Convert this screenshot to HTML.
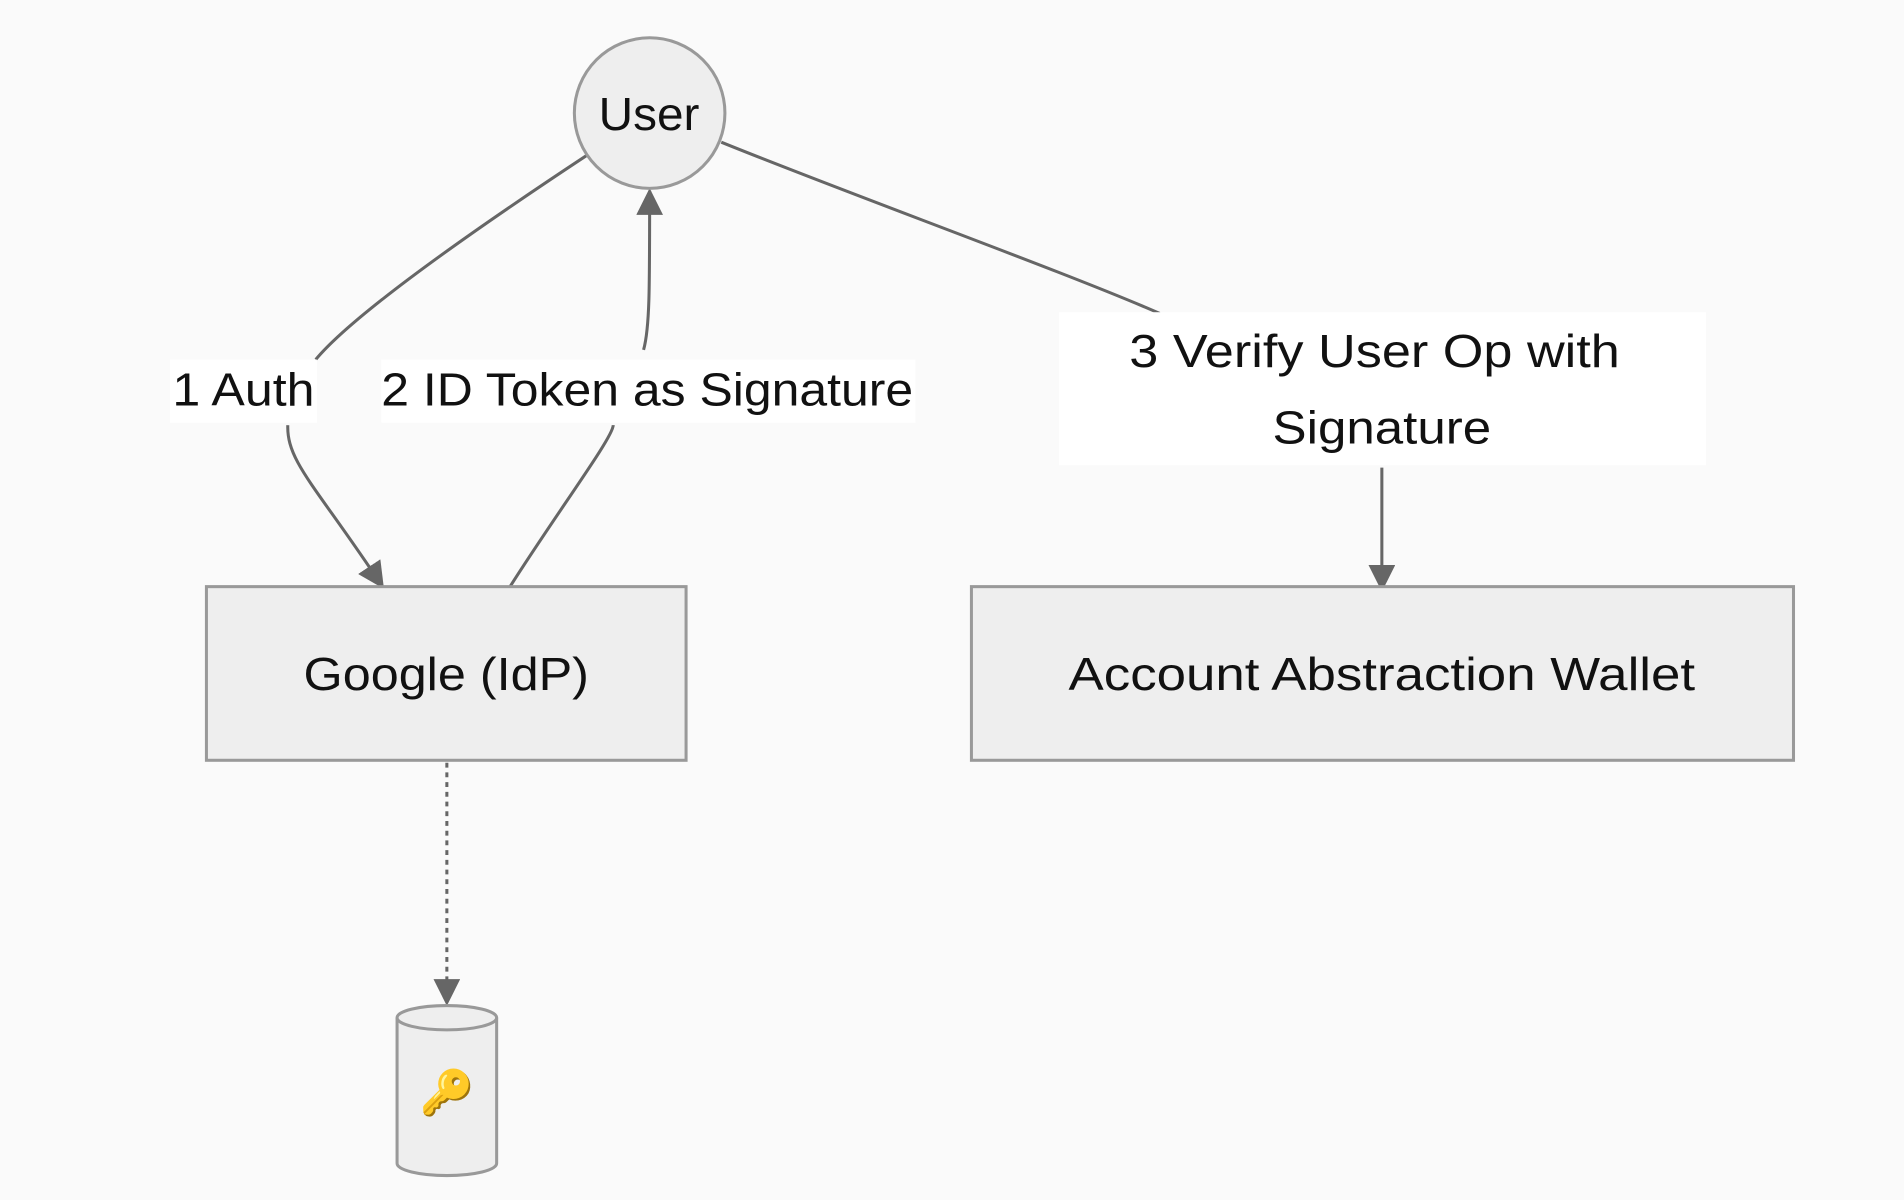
<!DOCTYPE html>
<html><head><meta charset="utf-8"><style>
html,body{margin:0;padding:0;background:#fafafa;}
svg{display:block;}
text{font-family:"Liberation Sans","DejaVu Sans",sans-serif;font-size:38px;fill:#111;}
</style></head><body>
<svg width="1904" height="1200" viewBox="0 0 1568 988" xmlns="http://www.w3.org/2000/svg">
<defs>
<marker id="a2" viewBox="0 0 10 10" refX="9" refY="5" markerWidth="22" markerHeight="22" markerUnits="userSpaceOnUse" orient="auto">
<path d="M0,0 L10,5 L0,10 z" fill="#666"/></marker>
</defs>
<rect width="1568" height="988" fill="#fafafa"/>
<path d="M483,128 C380,196 290,260 260,296" fill="none" stroke="#666" stroke-width="2.5"/>
<path d="M237,350 C236,380 260,400 315,483" fill="none" stroke="#666" stroke-width="2.5" marker-end="url(#a2)"/>
<path d="M420,483 C460,420 505,360 505,350" fill="none" stroke="#666" stroke-width="2.5"/>
<path d="M530,288 C535,270 535,240 535,157" fill="none" stroke="#666" stroke-width="2.5" marker-end="url(#a2)"/>
<path d="M594,117 C700,160 880,225 955,258" fill="none" stroke="#666" stroke-width="2.5"/>
<path d="M1138,385 L1138,485" fill="none" stroke="#666" stroke-width="2.5" marker-end="url(#a2)"/>
<path d="M368,628 L368,826" fill="none" stroke="#666" stroke-width="2.5" stroke-dasharray="4,4" marker-end="url(#a2)"/>
<rect x="140" y="296" width="121" height="52" fill="#fff"/>
<text x="142" y="334" textLength="117" lengthAdjust="spacingAndGlyphs">1 Auth</text>
<rect x="314" y="296" width="440" height="52" fill="#fff"/>
<text x="314" y="334" textLength="438" lengthAdjust="spacingAndGlyphs">2 ID Token as Signature</text>
<rect x="872" y="257" width="533" height="126" fill="#fff"/>
<text x="930" y="302" textLength="404" lengthAdjust="spacingAndGlyphs">3 Verify User Op with</text>
<text x="1048" y="365" textLength="180" lengthAdjust="spacingAndGlyphs">Signature</text>
<circle cx="535" cy="93" r="62" fill="#eeeeee" stroke="#999" stroke-width="2.5"/>
<text x="493" y="107" textLength="83" lengthAdjust="spacingAndGlyphs">User</text>
<rect x="170" y="483" width="395" height="143" fill="#eeeeee" stroke="#999" stroke-width="2.5"/>
<text x="250" y="568" textLength="235" lengthAdjust="spacingAndGlyphs">Google (IdP)</text>
<rect x="800" y="483" width="677" height="143" fill="#eeeeee" stroke="#999" stroke-width="2.5"/>
<text x="880" y="568" textLength="516" lengthAdjust="spacingAndGlyphs">Account Abstraction Wallet</text>
<path d="M327,838 L327,958 A41,10 0 0 0 409,958 L409,838" fill="#eeeeee" stroke="#999" stroke-width="2.5"/>
<ellipse cx="368" cy="838" rx="41" ry="10" fill="#eeeeee" stroke="#999" stroke-width="2.5"/>
<text x="368" y="912" text-anchor="middle" style="font-size:36px;font-family:'Noto Color Emoji','DejaVu Sans',sans-serif;fill:#c9a227">🔑</text>
</svg>
</body></html>
